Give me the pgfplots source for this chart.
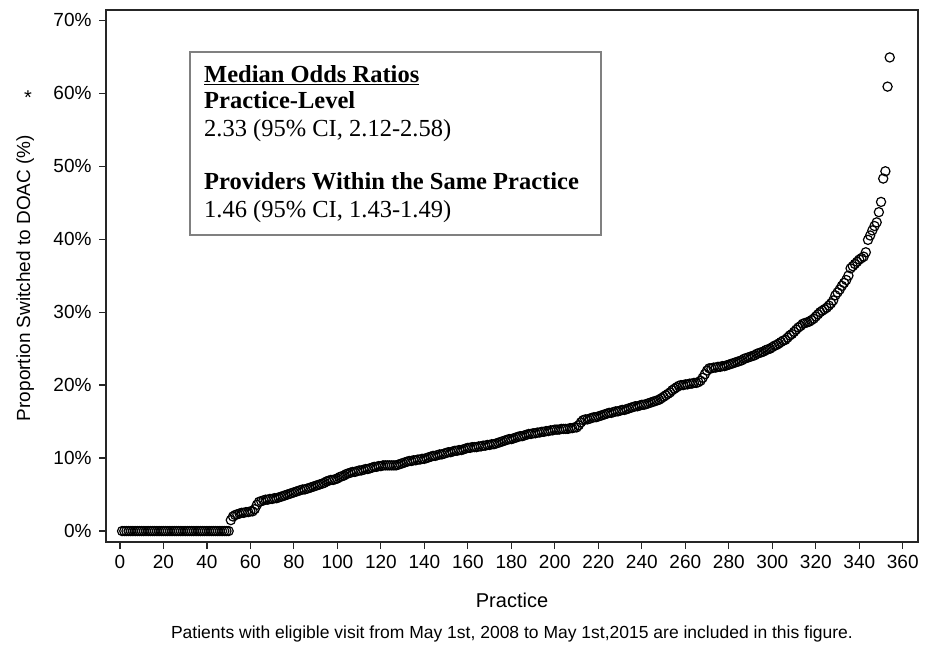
\documentclass[border=0pt]{standalone}
\usepackage{fontspec}
\setmainfont{Liberation Sans}
\newfontfamily\timesf{Liberation Serif}
\usepackage{pgfplots}
\pgfplotsset{compat=1.18}
\begin{document}
\begin{tikzpicture}[x=1pt,y=1pt]
\useasboundingbox (0,0) rectangle (929,646);
\begin{axis}[
  at={(106pt,104pt)}, anchor=south west,
  scale only axis, width=812pt, height=532pt,
  xmin=-6.4, xmax=367, ymin=-1.5, ymax=71.4,
  axis line style={line width=1.2pt, color=black!85},
  tick align=outside, xtick pos=left, ytick pos=left,
  major tick length=7pt,
  every tick/.style={line width=1.2pt, black!85},
  xtick={0,20,...,360},
  xticklabels={0,20,40,60,80,100,120,140,160,180,200,220,240,260,280,300,320,340,360},
  ytick={0,10,...,70},
  yticklabels={0\%,10\%,20\%,30\%,40\%,50\%,60\%,70\%},
  ticklabel style={font=\fontsize{19}{22}\selectfont},
  xticklabel style={yshift=-3pt},
  yticklabel style={xshift=-4pt},
]
\addplot[only marks, mark=o, mark size=4.6pt, mark options={line width=1.2pt, black}] coordinates {
(1,0)(2,0)(3,0)(4,0)(5,0)(6,0)(7,0)(8,0)(9,0)(10,0)
(11,0)(12,0)(13,0)(14,0)(15,0)(16,0)(17,0)(18,0)(19,0)(20,0)
(21,0)(22,0)(23,0)(24,0)(25,0)(26,0)(27,0)(28,0)(29,0)(30,0)
(31,0)(32,0)(33,0)(34,0)(35,0)(36,0)(37,0)(38,0)(39,0)(40,0)
(41,0)(42,0)(43,0)(44,0)(45,0)(46,0)(47,0)(48,0)(49,0)(50,0)
(51,1.5)(52,2.0)(53,2.2)(54,2.3)(55,2.4)(56,2.5)(57,2.5)(58,2.6)(59,2.6)(60,2.7)
(61,2.7)(62,3.0)(63,3.6)(64,4.0)(65,4.1)(66,4.2)(67,4.3)(68,4.3)(69,4.4)(70,4.4)
(71,4.5)(72,4.5)(73,4.6)(74,4.7)(75,4.8)(76,4.9)(77,5.0)(78,5.1)(79,5.2)(80,5.3)
(81,5.4)(82,5.5)(83,5.6)(84,5.7)(85,5.7)(86,5.8)(87,5.9)(88,6.0)(89,6.1)(90,6.2)
(91,6.3)(92,6.4)(93,6.5)(94,6.6)(95,6.8)(96,6.9)(97,7.0)(98,7.0)(99,7.1)(100,7.2)
(101,7.4)(102,7.5)(103,7.6)(104,7.8)(105,7.9)(106,8.0)(107,8.1)(108,8.1)(109,8.2)(110,8.3)
(111,8.3)(112,8.4)(113,8.5)(114,8.5)(115,8.6)(116,8.7)(117,8.8)(118,8.8)(119,8.9)(120,8.9)
(121,9.0)(122,9.0)(123,9.0)(124,9.0)(125,9.0)(126,9.0)(127,9.0)(128,9.1)(129,9.2)(130,9.3)
(131,9.4)(132,9.5)(133,9.6)(134,9.6)(135,9.7)(136,9.7)(137,9.8)(138,9.8)(139,9.9)(140,9.9)
(141,10.0)(142,10.1)(143,10.2)(144,10.3)(145,10.3)(146,10.4)(147,10.5)(148,10.5)(149,10.6)(150,10.7)
(151,10.8)(152,10.8)(153,10.9)(154,11.0)(155,11.0)(156,11.1)(157,11.1)(158,11.2)(159,11.3)(160,11.4)
(161,11.4)(162,11.5)(163,11.5)(164,11.5)(165,11.6)(166,11.6)(167,11.7)(168,11.7)(169,11.8)(170,11.8)
(171,11.9)(172,11.9)(173,12.0)(174,12.1)(175,12.2)(176,12.3)(177,12.4)(178,12.5)(179,12.6)(180,12.6)
(181,12.7)(182,12.8)(183,12.9)(184,13.0)(185,13.0)(186,13.1)(187,13.2)(188,13.3)(189,13.3)(190,13.4)
(191,13.4)(192,13.5)(193,13.5)(194,13.6)(195,13.6)(196,13.7)(197,13.7)(198,13.8)(199,13.8)(200,13.9)
(201,13.9)(202,13.9)(203,14.0)(204,14.0)(205,14.0)(206,14.0)(207,14.1)(208,14.1)(209,14.2)(210,14.2)
(211,14.5)(212,14.9)(213,15.2)(214,15.3)(215,15.3)(216,15.4)(217,15.5)(218,15.6)(219,15.6)(220,15.7)
(221,15.8)(222,15.9)(223,16.0)(224,16.1)(225,16.2)(226,16.2)(227,16.3)(228,16.4)(229,16.4)(230,16.5)
(231,16.6)(232,16.6)(233,16.7)(234,16.8)(235,16.9)(236,17.0)(237,17.1)(238,17.1)(239,17.2)(240,17.3)
(241,17.3)(242,17.4)(243,17.5)(244,17.6)(245,17.7)(246,17.8)(247,17.9)(248,18.0)(249,18.2)(250,18.4)
(251,18.6)(252,18.8)(253,19.0)(254,19.3)(255,19.5)(256,19.7)(257,19.9)(258,20.0)(259,20.0)(260,20.1)
(261,20.1)(262,20.2)(263,20.2)(264,20.3)(265,20.3)(266,20.4)(267,20.6)(268,21.0)(269,21.5)(270,22.0)
(271,22.3)(272,22.3)(273,22.4)(274,22.4)(275,22.5)(276,22.5)(277,22.6)(278,22.6)(279,22.7)(280,22.8)
(281,22.9)(282,23.0)(283,23.1)(284,23.2)(285,23.3)(286,23.4)(287,23.6)(288,23.7)(289,23.8)(290,23.9)
(291,24.0)(292,24.1)(293,24.3)(294,24.4)(295,24.5)(296,24.6)(297,24.8)(298,24.9)(299,25.0)(300,25.2)
(301,25.4)(302,25.5)(303,25.7)(304,25.9)(305,26.1)(306,26.2)(307,26.5)(308,26.8)(309,27.0)(310,27.3)
(311,27.6)(312,27.9)(313,28.1)(314,28.4)(315,28.5)(316,28.6)(317,28.7)(318,28.9)(319,29.1)(320,29.4)
(321,29.7)(322,30.0)(323,30.2)(324,30.4)(325,30.6)(326,30.9)(327,31.2)(328,31.6)(329,32.3)(330,32.7)
(331,33.1)(332,33.6)(333,34.0)(334,34.4)(335,35.0)(336,36.0)(337,36.3)(338,36.6)(339,36.9)(340,37.2)
(341,37.4)(342,37.6)(343,38.2)(344,39.9)(345,40.5)(346,41.2)(347,41.8)(348,42.3)(349,43.7)(350,45.1)
(351,48.3)(352,49.3)(353,60.9)(354,64.9)
};
\end{axis}
% annotation box
\draw[line width=1.2pt, black!50] (190,594) rectangle (601,411);
\begin{scope}[every node/.style={anchor=base west, inner sep=0pt}]
\node at (204,563) {\timesf\bfseries\fontsize{24.5}{27}\selectfont \underline{Median Odds Ratios}};
\node at (204,537) {\timesf\bfseries\fontsize{24.5}{27}\selectfont Practice-Level};
\node at (204,509) {\timesf\fontsize{24.5}{27}\selectfont 2.33 (95\% CI, 2.12-2.58)};
\node at (204,456) {\timesf\bfseries\fontsize{24.5}{27}\selectfont Providers Within the Same Practice};
\node at (204,428) {\timesf\fontsize{24.5}{27}\selectfont 1.46 (95\% CI, 1.43-1.49)};
\end{scope}
% axis labels
\node[rotate=90, anchor=base, inner sep=0pt] at (30,368) {\fontsize{19}{22}\selectfont Proportion Switched to DOAC (\%)};
\node[inner sep=0pt] at (28,548) {\fontsize{20}{22}\selectfont *};
\node[anchor=base, inner sep=0pt] at (512,39) {\fontsize{20}{24}\selectfont Practice};
\node[anchor=base, inner sep=0pt] at (512,8) {\fontsize{17.5}{20}\selectfont Patients with eligible visit from May 1st, 2008 to May 1st,2015 are included in this figure.};
\end{tikzpicture}
\end{document}
